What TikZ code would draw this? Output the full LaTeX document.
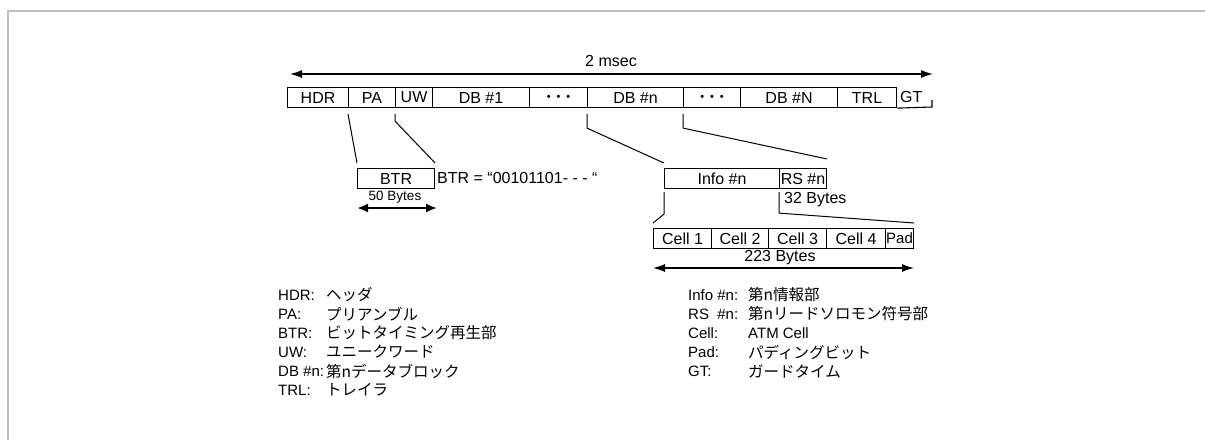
\documentclass[tikz,border=0pt]{standalone}
\usepackage{fontspec}
\setmainfont{Liberation Sans}
\newfontfamily\jp{Noto Sans CJK JP}
\usetikzlibrary{arrows.meta}
\begin{document}
\begin{tikzpicture}[x=1pt,y=-1pt,
  fld/.style={draw, line width=1.1pt, inner sep=0pt, minimum height=20pt, anchor=north west, font=\fontsize{16}{18}\selectfont},
  dotfld/.style={fld, font=\fontsize{11}{12}\selectfont},
  lbl/.style={anchor=west, inner sep=0pt, font=\fontsize{15}{17}\selectfont},
  jtx/.style={anchor=west, inner sep=0pt, font=\fontsize{15.5}{17}\selectfont\jp},
  txt/.style={inner sep=0pt, font=\fontsize{16}{18}\selectfont},
  conn/.style={line width=1pt},
  dimarrow/.style={line width=1.2pt, {Latex[length=12pt,width=8pt]}-{Latex[length=12pt,width=8pt]}},
  dimthick/.style={line width=2pt, {Latex[length=11pt,width=9pt]}-{Latex[length=11pt,width=9pt]}}
]
\useasboundingbox (0,0) rectangle (1205,440);
\draw[line width=2pt, color=black!25] (8,440) -- (8,11) -- (1205,11);

% main frame
\node[fld, minimum width=61pt] (hdr) at (287,87) {HDR};
\node[fld, minimum width=47pt] (pa) at (348,87) {PA};
\node[fld, minimum width=37pt] (uw) at (395,87) {UW};
\node[fld, minimum width=97pt] (db1) at (432,87) {DB \#1};
\node[dotfld, minimum width=58pt] (dots1) at (529,87) {\textbullet\hspace{6pt}\textbullet\hspace{6pt}\textbullet};
\node[fld, minimum width=96pt] (dbn) at (587,87) {DB \#n};
\node[dotfld, minimum width=57pt] (dots2) at (683,87) {\textbullet\hspace{6pt}\textbullet\hspace{6pt}\textbullet};
\node[fld, minimum width=97pt] (dbN) at (740,87) {DB \#N};
\node[fld, minimum width=59pt] (trl) at (837,87) {TRL};
\node[anchor=north west, inner sep=0pt, minimum width=30pt, minimum height=20pt, font=\fontsize{16}{18}\selectfont] (gt) at (896,87) {GT};
\coordinate (gtend) at (932,107);
\draw[line width=1.1pt] (trl.south east) -- (gtend) -- ++(0,-7);

% 2 msec
\coordinate (msl) at (290,74);
\coordinate (msr) at (933,74);
\draw[dimarrow] (msl) -- (msr);
\node[txt] (ms) at (611,61) {2 msec};

% BTR
\node[fld, minimum width=77pt] (btr) at (357,168) {BTR};
\node[txt, anchor=west] (btrv) at (437,178) {BTR = “00101101- - - “};
\node[txt, font=\fontsize{13.5}{15}\selectfont] (b50) at (395,197) {50 Bytes};
\coordinate (b50l) at (357,208);
\coordinate (b50r) at (437,208);
\draw[dimthick] (b50l) -- (b50r);

\draw[conn] ([yshift=-6pt]pa.south west) -- ([yshift=5pt]btr.north west);
\draw[conn] ([yshift=-6pt]uw.south west) -- ++(0,7) -- ([yshift=5pt]btr.north east);

% Info / RS
\node[fld, minimum width=115pt] (info) at (664,168) {Info \#n};
\node[fld, minimum width=47pt] (rs) at (779,168) {RS \#n};
\node[txt, anchor=west] (b32) at (784,200) {32 Bytes};

\draw[conn] ([yshift=-6pt]dbn.south west) -- ++(0,14) -- ([yshift=5pt]info.north west);
\draw[conn] ([yshift=-6pt]dots2.south west) -- ++(0,14) -- ([yshift=9pt]rs.north east);

% cells
\node[fld, minimum width=58pt] (c1) at (653,228) {Cell 1};
\node[fld, minimum width=57pt] (c2) at (711,228) {Cell 2};
\node[fld, minimum width=58pt] (c3) at (768,228) {Cell 3};
\node[fld, minimum width=59pt] (c4) at (826,228) {Cell 4};
\node[fld, minimum width=28pt, font=\fontsize{15}{17}\selectfont] (pad) at (885,228) {Pad};
\node[txt] (b223) at (780,258) {223 Bytes};
\coordinate (b223l) at (653,268);
\coordinate (b223r) at (914,268);
\draw[dimarrow] (b223l) -- (b223r);

\draw[conn] ([yshift=-3pt]info.south west) -- ++(0,22) -- ([yshift=5pt]c1.north west);
\draw[conn] ([yshift=-3pt]rs.south west) -- ++(0,21) -- ([yshift=5pt]pad.north east);

% legend left
\node[lbl] (l1) at (278,295) {HDR:};   \node[jtx] (j1) at (326,295) {ヘッダ};
\node[lbl] (l2) at (278,314) {PA:};    \node[jtx] (j2) at (326,314) {プリアンブル};
\node[lbl] (l3) at (278,333) {BTR:};   \node[jtx] (j3) at (326,333) {ビットタイミング再生部};
\node[lbl] (l4) at (278,352) {UW:};    \node[jtx] (j4) at (326,352) {ユニークワード};
\node[lbl] (l5) at (278,371) {DB \#n:};\node[jtx] (j5) at (326,371) {第nデータブロック};
\node[lbl] (l6) at (278,390) {TRL:};   \node[jtx] (j6) at (326,390) {トレイラ};

% legend right
\node[lbl] (r1) at (688,295) {Info \#n:}; \node[jtx] (k1) at (748,295) {第n情報部};
\node[lbl] (r2) at (688,314) {RS\ \ \#n:}; \node[jtx] (k2) at (748,314) {第nリードソロモン符号部};
\node[lbl] (r3) at (688,333) {Cell:};     \node[lbl] (k3) at (748,333) {ATM Cell};
\node[lbl] (r4) at (688,352) {Pad:};      \node[jtx] (k4) at (748,352) {パディングビット};
\node[lbl] (r5) at (688,371) {GT:};       \node[jtx] (k5) at (748,371) {ガードタイム};
\end{tikzpicture}
\end{document}
